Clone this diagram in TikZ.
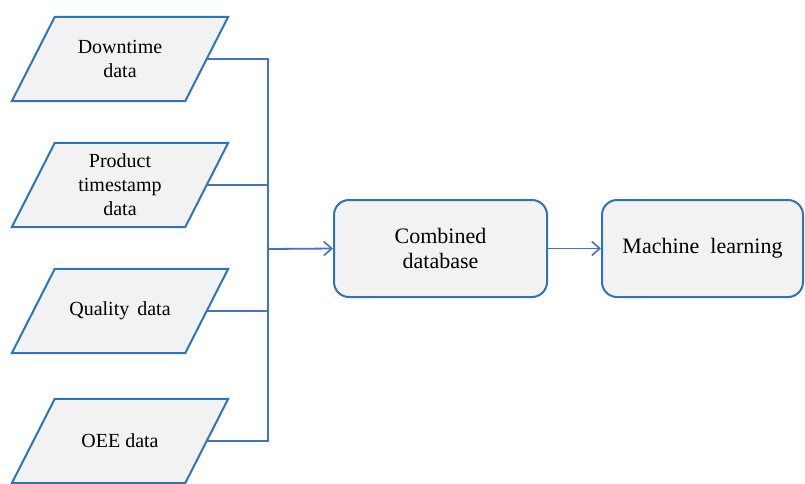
\documentclass[tikz,border=0pt]{standalone}
\usepackage{fontspec}
\setmainfont{Liberation Serif}
\newfontfamily\labelfont{Liberation Serif}
\usetikzlibrary{arrows.meta,backgrounds}

\definecolor{edgeblue}{HTML}{2E75B6}
\definecolor{linkblue}{HTML}{4472C4}
\definecolor{boxfill}{HTML}{F2F2F2}

\tikzset{
  % text holder of a data source; its outline is drawn on the background layer
  source/.style={rectangle, minimum width=173pt, minimum height=84pt,
    inner sep=0pt, align=center,
    font=\labelfont\fontsize{20}{24}\selectfont},
  sourceedge/.style={draw=edgeblue, fill=boxfill, line width=2pt, line join=miter},
  stage/.style={rectangle, rounded corners=15pt, draw=edgeblue, fill=boxfill,
    line width=2pt, align=center, minimum height=97pt,
    font=\labelfont\fontsize{22}{25}\selectfont},
  link/.style={draw=linkblue, line width=1.8pt},
  flow/.style={link, -{Straight Barb[length=8pt,width=14pt,line width=1.6pt]}}
}

\begin{document}
\begin{tikzpicture}[x=1pt,y=-1pt]
  \useasboundingbox (0,0) rectangle (805,483);

  % input data sources
  \node[source] (down) at (120,59)  {Downtime\\data};
  \node[source] (prod) at (120,185) {Product\\timestamp\\data};
  \node[source] (qual) at (120,311) {Quality\hspace{0.4em}data};
  \node[source] (oee)  at (120,441) {OEE data};

  % slanted outlines of the sources
  \begin{scope}[on background layer]
    \foreach \n in {down,prod,qual,oee}
      \draw[sourceedge] ([xshift=-21.5pt]\n.south west) -- ([xshift=-21.5pt]\n.south east)
        -- ([xshift=21.5pt]\n.north east) -- ([xshift=21.5pt]\n.north west) -- cycle;
  \end{scope}

  % processing stages
  \node[stage, minimum width=213pt] (db) at (440.5,248.5) {Combined\\database};
  \node[stage, minimum width=201pt] (ml) at (702.5,248.5) {Machine\ \ learning};

  % collecting bus
  \coordinate (bus) at (268,249);
  \draw[link] (down.east) -- (down.east -| bus) -- (oee.east -| bus) -- (oee.east);
  \draw[link] (prod.east) -- (prod.east -| bus);
  \draw[link] (qual.east) -- (qual.east -| bus);

  % flow arrows
  \draw[flow] (bus) -- (db.west);
  \draw[flow] (db.east) -- (ml.west);
\end{tikzpicture}
\end{document}
